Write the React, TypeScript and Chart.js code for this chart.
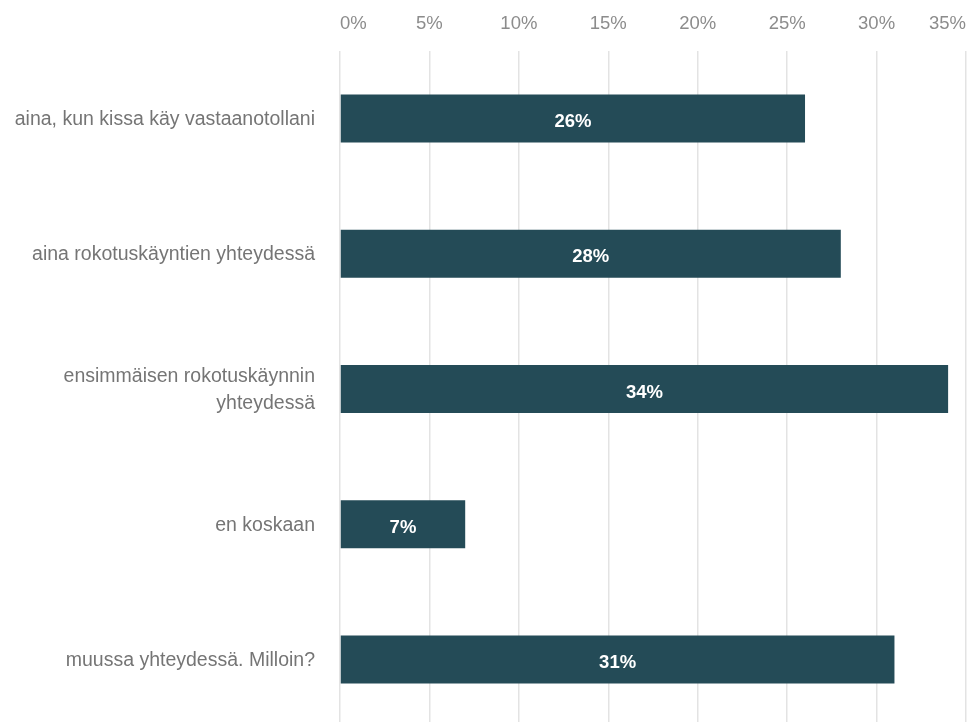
import React, { useEffect, useRef } from "react";
import { Chart, registerables } from "chart.js";

Chart.register(...registerables);

const categories: (string | string[])[] = [
  "aina, kun kissa käy vastaanotollani",
  "aina rokotuskäyntien yhteydessä",
  ["ensimmäisen rokotuskäynnin", "yhteydessä"],
  "en koskaan",
  "muussa yhteydessä. Milloin?",
];
const values: number[] = [26, 28, 34, 7, 31];
const axisMin = 0;
const axisMax = 35;
const axisStep = 5;

const FONT = '"Liberation Sans", Arial, Helvetica, sans-serif';

const valueLabels = {
  id: "valueLabels",
  afterDatasetsDraw(chart: any) {
    const ctx = chart.ctx;
    const meta = chart.getDatasetMeta(0);
    ctx.save();
    ctx.fillStyle = "#ffffff";
    ctx.font = `bold 18.5px ${FONT}`;
    ctx.textAlign = "center";
    ctx.textBaseline = "middle";
    meta.data.forEach((bar: any, i: number) => {
      const p = bar.getProps(["x", "y", "base"], true);
      ctx.fillText(`${values[i]}%`, (p.x + p.base) / 2, p.y + 3.5);
    });
    ctx.restore();
  },
};

export default function App() {
  const ref = useRef<HTMLCanvasElement | null>(null);
  useEffect(() => {
    if (!ref.current) return;
    const chart = new Chart(ref.current, {
      type: "bar",
      data: {
        labels: categories,
        datasets: [
          {
            data: values,
            backgroundColor: "#244b57",
            borderWidth: 0,
            barPercentage: 0.355,
            categoryPercentage: 1,
          },
        ],
      },
      plugins: [valueLabels],
      options: {
        indexAxis: "y",
        responsive: false,
        animation: false,
        layout: { padding: { top: 0, right: 5, bottom: 3, left: 0 } },
        plugins: {
          legend: { display: false },
          tooltip: { enabled: false },
        },
        scales: {
          x: {
            position: "top",
            min: axisMin,
            max: axisMax,
            afterFit: (s: any) => {
              s.height = 51;
              s.paddingLeft = 0;
              s.paddingRight = 0;
            },
            ticks: {
              stepSize: axisStep,
              align: "inner",
              padding: 16,
              color: "#8c8c8c",
              font: { family: FONT, size: 18.5 },
              callback: (v: any) => `${v}%`,
            },
            grid: { color: "#e3e3e3", lineWidth: 1.5, drawTicks: false },
            border: { display: false },
          },
          y: {
            afterFit: (s: any) => {
              s.width = 340;
              s.paddingTop = 0;
              s.paddingBottom = 0;
            },
            ticks: {
              padding: 25,
              labelOffset: 1,
              color: "#757575",
              font: { family: FONT, size: 19.5, lineHeight: 1.4 },
            },
            grid: { display: false, drawTicks: false },
            border: { display: false },
          },
        },
      },
    });
    return () => chart.destroy();
  }, []);
  return (
    <div
      style={{
        position: "fixed",
        left: 0,
        top: 0,
        width: 971,
        height: 722,
        overflow: "hidden",
        background: "#fff",
      }}
    >
      <canvas ref={ref} width={971} height={730} style={{ display: "block" }} />
    </div>
  );
}
